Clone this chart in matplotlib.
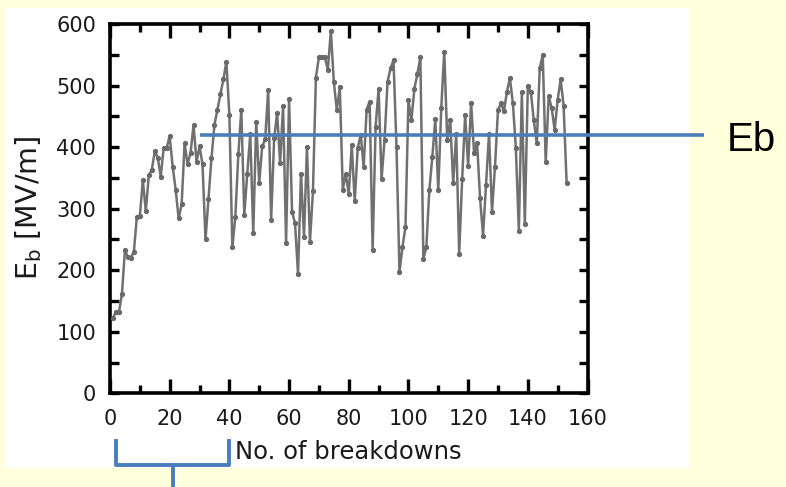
import matplotlib
matplotlib.use("Agg")
import matplotlib.pyplot as plt
import matplotlib.transforms as mtransforms
from matplotlib.patches import Rectangle

# ---------------- data ----------------
breakdown_values = [
    123, 132, 132, 161, 233, 221, 220, 230, 287, 288,
    346, 296, 354, 363, 393, 383, 352, 399, 399, 418,
    368, 331, 284, 307, 406, 372, 391, 436, 376, 401,
    372, 250, 315, 382, 436, 461, 486, 510, 539, 452,
    237, 287, 388, 460, 290, 357, 421, 261, 441, 342,
    401, 413, 493, 282, 414, 455, 374, 467, 245, 478,
    295, 276, 194, 357, 254, 400, 246, 328, 513, 546,
    546, 546, 525, 589, 506, 460, 497, 331, 357, 324,
    403, 312, 398, 420, 368, 461, 474, 233, 433, 495,
    348, 412, 506, 528, 541, 400, 197, 238, 270, 476,
    444, 495, 519, 546, 218, 238, 330, 384, 445, 330,
    463, 555, 412, 444, 341, 422, 227, 348, 452, 369,
    472, 390, 407, 317, 256, 338, 422, 295, 368, 460,
    471, 458, 490, 512, 471, 398, 264, 490, 275, 499,
    490, 444, 406, 528, 550, 376, 483, 463, 428, 477,
    510, 467, 342,
]
breakdown_no = list(range(1, len(breakdown_values) + 1))

eb_level = 420          # Eb reference level [MV/m]
eb_start = 30           # start of the Eb line (No. of breakdowns)
bracket_range = (2, 40) # conditioning range marked by the bracket

x_ticks = [0, 20, 40, 60, 80, 100, 120, 140, 160]
y_ticks = [0, 100, 200, 300, 400, 500, 600]

# ---------------- figure ----------------
W, H = 786, 487
fig = plt.figure(figsize=(W / 100, H / 100), dpi=100)
fig.patch.set_facecolor("#FFFFDC")

# white panel behind the chart
panel = Rectangle((5 / W, 1 - 468 / H), (690 - 5) / W, (468 - 8) / H,
                  transform=fig.transFigure, facecolor="white",
                  edgecolor="none", zorder=-10)
fig.add_artist(panel)

left, right = 110 / W, 587.5 / W
bottom, top = 1 - 393.3 / H, 1 - 24 / H
ax = fig.add_axes([left, bottom, right - left, top - bottom])
ax.set_facecolor("white")
ax.set_zorder(1)

ax.plot(breakdown_no, breakdown_values, color="#707070", lw=1.8,
        marker="o", ms=2.8, mfc="#6a6a6a", mec="#6a6a6a", zorder=3)

ax.set_xlim(0, 160)
ax.set_ylim(0, 600)
ax.set_xticks(x_ticks)
ax.set_xticks(range(10, 160, 20), minor=True)
ax.set_yticks(y_ticks)
ax.set_yticks(range(50, 600, 100), minor=True)

for s in ax.spines.values():
    s.set_linewidth(2.6)
    s.set_color("black")

ax.tick_params(axis="both", which="both", direction="in", top=True, right=True,
               width=2.4, color="black", labelsize=15)
ax.tick_params(axis="x", which="major", length=10, pad=11)
ax.tick_params(axis="x", which="minor", length=6)
ax.tick_params(axis="y", which="both", length=6.5, pad=10)
for lab in ax.get_xticklabels() + ax.get_yticklabels():
    lab.set_color("#1a1a1a")

# y label
fig.text(29 / W, 1 - 208 / H, r"E$_\mathregular{b}$ [MV/m]", rotation=90,
         ha="center", va="center", fontsize=20.5, color="#1a1a1a", zorder=5)

# x label (left-aligned next to the bracket)
fig.text(235 / W, 1 - 452 / H, "No. of breakdowns", ha="left", va="center",
         fontsize=17.5, color="#1a1a1a", zorder=5)

# Eb line (data x / data y), extending out of the axes
blue = "#4A7EBB"
x_end_data = 160 + (704 - 587.5) / ((587.5 - 110) / 160)
ax.plot([eb_start, x_end_data], [eb_level, eb_level], color=blue, lw=2.6,
        clip_on=False, zorder=4, solid_capstyle="butt")
fig.text(727 / W, 1 - 140 / H, "Eb", ha="left", va="center", fontsize=29,
         family=["Liberation Sans", "DejaVu Sans"], color="black", zorder=5)

# bracket under the first 40 breakdowns
tb = mtransforms.blended_transform_factory(ax.transData, fig.transFigure)
x0, x1 = bracket_range
xm = (x0 + x1) / 2
ytop = 1 - 441 / H
ybar = 1 - 465 / H
ybot = 0.0
ax.add_line(plt.Line2D([x0, x0, x1, x1], [ytop, ybar, ybar, ytop],
                       transform=tb, color=blue, lw=2.8, clip_on=False,
                       solid_joinstyle="round"))
ax.add_line(plt.Line2D([xm, xm], [ybar, ybot], transform=tb, color=blue,
                       lw=2.8, clip_on=False))

fig.savefig("out.png", dpi=100, facecolor=fig.get_facecolor())
